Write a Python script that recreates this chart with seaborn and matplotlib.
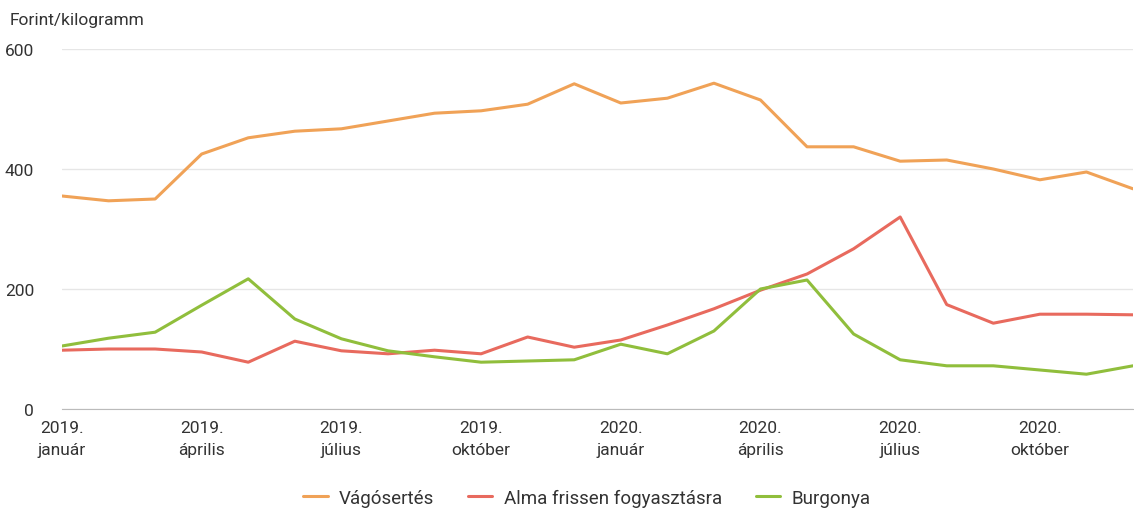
import numpy as np
import pandas as pd
import matplotlib
matplotlib.use("Agg")
import matplotlib.pyplot as plt
import seaborn as sns

# monthly prices, 2019 January .. 2020 December
honapok = ["2019-01", "2019-02", "2019-03", "2019-04", "2019-05", "2019-06",
           "2019-07", "2019-08", "2019-09", "2019-10", "2019-11", "2019-12",
           "2020-01", "2020-02", "2020-03", "2020-04", "2020-05", "2020-06",
           "2020-07", "2020-08", "2020-09", "2020-10", "2020-11", "2020-12"]
vagosertes = [355, 347, 350, 425, 452, 463, 467, 480, 493, 497, 508, 542,
              510, 518, 543, 515, 437, 437, 413, 415, 400, 382, 395, 367]
alma = [98, 100, 100, 95, 78, 113, 97, 92, 98, 92, 120, 103,
        115, 140, 167, 198, 225, 267, 320, 174, 143, 158, 158, 157]
burgonya = [105, 118, 128, 173, 217, 150, 117, 97, 87, 78, 80, 82,
            108, 92, 130, 200, 215, 125, 82, 72, 72, 65, 58, 72]
tick_labels = ["2019.\njanuár", "2019.\náprilis", "2019.\njúlius", "2019.\noktóber",
               "2020.\njanuár", "2020.\náprilis", "2020.\njúlius", "2020.\noktóber"]
series_names = ["Vágósertés", "Alma frissen fogyasztásra", "Burgonya"]
colors = ["#F0A257", "#E86A5E", "#90BE3C"]

df = pd.DataFrame({"honap": honapok, series_names[0]: vagosertes,
                   series_names[1]: alma, series_names[2]: burgonya})
df["idx"] = np.arange(len(df))
long = df.melt(id_vars=["honap", "idx"], var_name="termek", value_name="ar")

sns.set_style("white")
plt.rcParams['font.family'] = ['Roboto', 'DejaVu Sans']

fig = plt.figure(figsize=(11.34, 5.10), dpi=100)
ax = fig.add_axes([62/1134, 1 - 410/510, (1133 - 62)/1134, 360/510])

sns.lineplot(data=long, x="idx", y="ar", hue="termek", hue_order=series_names,
             palette=colors, linewidth=2.2, ax=ax, legend=True)

ax.set_xlim(0, 23)
ax.set_ylim(0, 600)
ax.set_yticks([0, 200, 400, 600])
ax.set_xticks(np.arange(0, 24, 3))
ax.set_xticklabels(tick_labels, fontsize=12.5, color="#333333", linespacing=1.55)
ax.tick_params(axis="y", length=0, pad=20, labelsize=12.5, labelcolor="#333333")
ax.tick_params(axis="x", length=7, width=1, color="#BBBBBB", pad=1)
ax.grid(axis="y", color="#E6E6E6", linewidth=1)
ax.set_xlabel("")
ax.set_ylabel("")
for s in ["top", "right", "left"]:
    ax.spines[s].set_visible(False)
ax.spines["bottom"].set_color("#BBBBBB")

fig.text(10/1134, 1 - 20/510, "Forint/kilogramm", fontsize=12.5, color="#333333", va="center")

handles, labels = ax.get_legend_handles_labels()
ax.legend(handles, labels, loc="center", bbox_to_anchor=(0.49, -0.246), ncol=3,
          frameon=False, fontsize=13.5, handlelength=1.3, handletextpad=0.6,
          columnspacing=1.8, labelcolor="#333333")

fig.savefig("out.png", dpi=100)
